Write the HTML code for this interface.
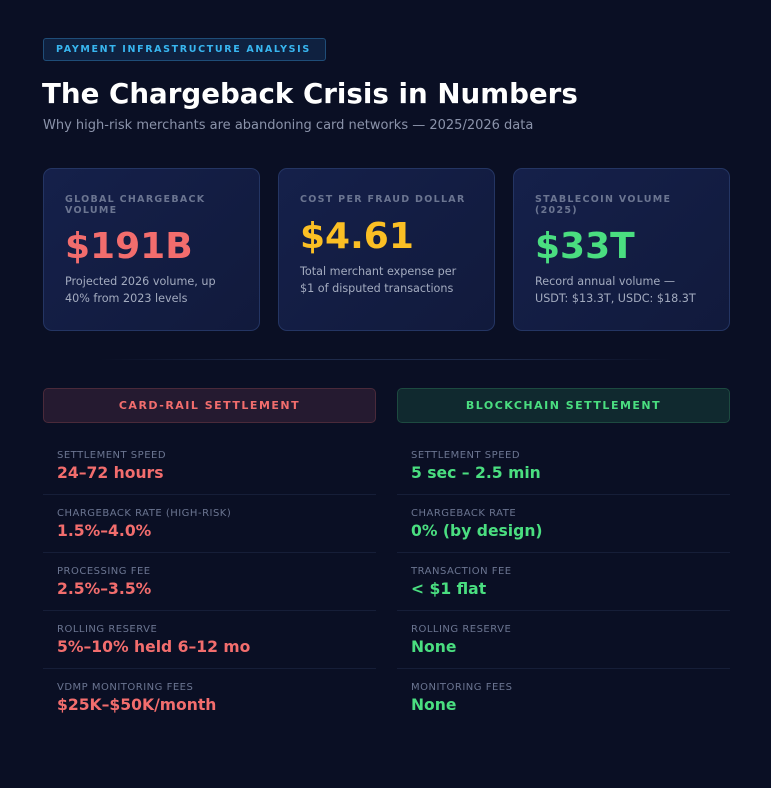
<!DOCTYPE html>
<html><head><meta charset="utf-8"><style>
*{margin:0;padding:0;box-sizing:border-box}
body{width:771px;height:788px;background:#0a0f24;font-family:"DejaVu Sans","Liberation Sans",sans-serif;position:relative;overflow:hidden;color:#fff}
.a{position:absolute;white-space:nowrap}
.tag{left:43px;top:38px;width:283px;height:23px;border:1px solid #1f4d78;background:#0f2140;border-radius:3px;color:#38b6f0;font-size:9.5px;font-weight:bold;letter-spacing:1.65px;line-height:21px;padding-left:12px}
.card{position:absolute;top:168px;width:217px;height:163px;border:1px solid #243563;border-radius:9px;background:linear-gradient(135deg,#15204a,#111a3c)}
.cl{position:absolute;left:21px;top:25px;font-size:9.5px;font-weight:bold;letter-spacing:1.3px;color:#6b7591;line-height:11px;white-space:normal;width:180px}
.cv{position:absolute;left:21px;top:56px;font-size:36px;font-weight:bold;line-height:44px}
.cd{position:absolute;left:21px;top:104px;font-size:11.2px;color:#a3abbf;line-height:17px;white-space:normal;width:170px}
.hd{position:absolute;top:388px;width:333px;height:35px;border-radius:5px;text-align:center;line-height:34px;font-size:11px;font-weight:bold;letter-spacing:1.5px}
.row{position:absolute;width:333px;height:58px;border-bottom:1px solid #161e38}
.rl{position:absolute;left:14px;top:13px;font-size:10px;letter-spacing:0.5px;color:#6b7591}
.rv{position:absolute;left:14px;top:27px;font-size:15.6px;font-weight:bold}
</style></head><body>
<div class="a tag">PAYMENT INFRASTRUCTURE ANALYSIS</div>
<div class="a" style="left:42px;top:77px;font-size:27.7px;font-weight:bold;color:#fff">The Chargeback Crisis in Numbers</div>
<div class="a" style="left:43px;top:118px;font-size:13px;color:#8b93aa">Why high-risk merchants are abandoning card networks — 2025/2026 data</div>

<div class="card" style="left:43px">
<div class="cl">GLOBAL CHARGEBACK VOLUME</div>
<div class="cv" style="color:#f26d6d">$191B</div>
<div class="cd">Projected 2026 volume, up 40% from 2023 levels</div></div>
<div class="card" style="left:278px">
<div class="cl">COST PER FRAUD DOLLAR</div>
<div class="cv" style="color:#fbbf24;top:46px">$4.61</div>
<div class="cd" style="top:94px">Total merchant expense per $1 of disputed transactions</div></div>
<div class="card" style="left:513px">
<div class="cl">STABLECOIN VOLUME (2025)</div>
<div class="cv" style="color:#4ade80">$33T</div>
<div class="cd" style="width:168px">Record annual volume — USDT: $13.3T, USDC: $18.3T</div></div>

<div class="a" style="left:100px;top:359px;width:571px;height:1px;background:linear-gradient(90deg,transparent,#1e2a4a 30%,#1e2a4a 70%,transparent)"></div>

<div class="hd" style="left:43px;background:#251a30;border:1px solid #4a2a3a;color:#f26d6d">CARD-RAIL SETTLEMENT</div>
<div class="hd" style="left:397px;background:#10292f;border:1px solid #1d4a40;color:#4ade80">BLOCKCHAIN SETTLEMENT</div>

<div id="rows"></div>
<script>
const labelsL=["SETTLEMENT SPEED","CHARGEBACK RATE (HIGH-RISK)","PROCESSING FEE","ROLLING RESERVE","VDMP MONITORING FEES"];
const valuesL=["24–72 hours","1.5%–4.0%","2.5%–3.5%","5%–10% held 6–12 mo","$25K–$50K/month"];
const labelsR=["SETTLEMENT SPEED","CHARGEBACK RATE","TRANSACTION FEE","ROLLING RESERVE","MONITORING FEES"];
const valuesR=["5 sec – 2.5 min","0% (by design)","< $1 flat","None","None"];
const host=document.getElementById('rows');
function make(x,labs,vals,color,side){
 labs.forEach((l,i)=>{
  const r=document.createElement('div');r.className='row';
  r.style.left=x+'px';r.style.top=(437+i*58)+'px';
  if(i===labs.length-1)r.style.borderBottom='none';
  
  
  const a=document.createElement('div');a.className='a rl';a.textContent=l;
  
  
  const b=document.createElement('div');b.className='a rv';b.textContent=vals[i];b.style.color=color;
  
  
  r.appendChild(a);r.appendChild(b);host.appendChild(r);
 });
}
make(43,labelsL,valuesL,'#f26d6d','card-rail');
make(397,labelsR,valuesR,'#4ade80','blockchain');
</script>
</body></html>
